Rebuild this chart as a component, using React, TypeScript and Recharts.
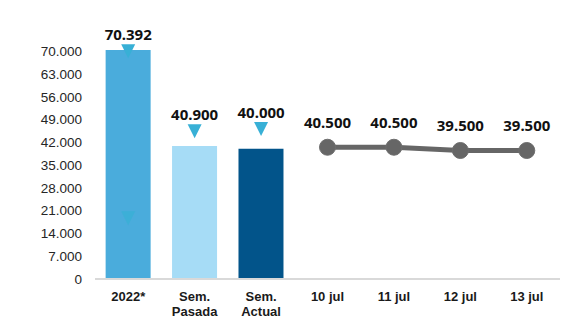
import React from "react";
import { ComposedChart, Bar, Line, XAxis, YAxis, Cell, LabelList } from "recharts";

const categories = ["2022*", "Sem. Pasada", "Sem. Actual", "10 jul", "11 jul", "12 jul", "13 jul"];
const barValues = [70392, 40900, 40000, null, null, null, null];
const lineValues = [null, null, null, 40500, 40500, 39500, 39500];
const markerValues = [70000, 45400, 46100, null, null, null, null];
const fadedMarkerValues = [18700, null, null, null, null, null, null];
const yTicks = [0, 7000, 14000, 21000, 28000, 35000, 42000, 49000, 56000, 63000, 70000];

const barColors = ["#4AACDC", "#A6DCF6", "#02548A"];

const data = categories.map((name, i) => ({
  name,
  bar: barValues[i],
  line: lineValues[i],
  marker: markerValues[i],
  faded: fadedMarkerValues[i],
}));

const fmt = (v: number) => new Intl.NumberFormat("de-DE").format(v);

const Triangle = (props: any) => {
  const { cx, cy, value, opacity } = props;
  if (value == null || cx == null) return null;
  const w = 14;
  const h = 14;
  return (
    <path
      d={`M${cx - w / 2},${cy - h / 2} L${cx + w / 2},${cy - h / 2} L${cx},${cy + h / 2} Z`}
      fill="#38B0D6"
      opacity={opacity ?? 1}
    />
  );
};

const XTick = (props: any) => {
  const { x, y, payload } = props;
  const parts = String(payload.value).split(" ");
  const lines = parts[0] === "Sem." ? [parts[0], parts[1]] : [payload.value];
  return (
    <text x={x} y={y} textAnchor="middle" fontFamily="'Liberation Sans', Arial, sans-serif" fontWeight="bold" fontSize={13} fill="#1a1a1a">
      {lines.map((l: string, i: number) => (
        <tspan key={i} x={x} dy={i === 0 ? 14 : 15}>
          {l}
        </tspan>
      ))}
    </text>
  );
};

const labelFont = { fontFamily: "'Noto Sans', sans-serif", fontWeight: "bold", fontSize: 15, fill: "#111" };

export default function App() {
  return (
    <div style={{ position: "absolute", left: 0, top: 0, width: 566, height: 318, background: "#fff" }}>
      <ComposedChart width={566} height={318} data={data} margin={{ top: 50, right: 6, left: 0, bottom: 0 }} barCategoryGap="16%">
        <XAxis
          dataKey="name"
          interval={0}
          tickLine={false}
          axisLine={{ stroke: "#D9D9D9", strokeWidth: 2 }}
          tick={<XTick />}
          height={39}
        />
        <YAxis
          domain={[0, 70392]}
          ticks={yTicks}
          interval={0}
          axisLine={false}
          tickLine={false}
          width={95}
          tickMargin={7}
          tickFormatter={(v) => fmt(v)}
          tick={{ fontFamily: "'Liberation Sans', Arial, sans-serif", fontSize: 13.5, fill: "#262626" }}
        />
        <Bar dataKey="bar" isAnimationActive={false}>
          {data.map((_, i) => (
            <Cell key={i} fill={barColors[i] ?? "#4AACDC"} />
          ))}
        </Bar>
        <Line
          dataKey="faded"
          stroke="none"
          isAnimationActive={false}
          dot={(p: any) => <Triangle key={p.index} {...p} opacity={0.8} />}
          activeDot={false}
        />
        <Line
          dataKey="marker"
          stroke="none"
          isAnimationActive={false}
          dot={(p: any) => <Triangle key={p.index} {...p} />}
          activeDot={false}
        >
          <LabelList
            content={(p: any) => {
              const v = barValues[p.index];
              if (v == null || p.value == null) return null;
              return (
                <text x={p.x} y={p.y - 11} textAnchor="middle" {...labelFont}>
                  {fmt(v)}
                </text>
              );
            }}
          />
        </Line>
        <Line
          dataKey="line"
          stroke="#666666"
          strokeWidth={5}
          isAnimationActive={false}
          dot={{ r: 8, fill: "#666666", stroke: "#6e6e6e", strokeWidth: 1 }}
          activeDot={false}
        >
          <LabelList
            dataKey="line"
            position="top"
            offset={19}
            formatter={(v: any) => (v == null ? "" : fmt(v))}
            style={labelFont}
          />
        </Line>
      </ComposedChart>
    </div>
  );
}
